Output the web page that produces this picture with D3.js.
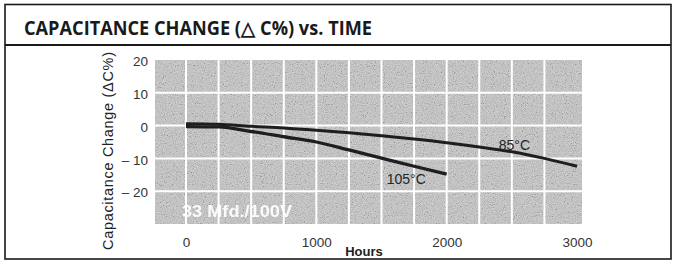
<!DOCTYPE html>
<html>
<head>
<meta charset="utf-8">
<script src="https://cdn.jsdelivr.net/npm/d3@7"></script>
<style>
  body { margin: 0; background: #fff; }
  svg { display: block; }
</style>
</head>
<body>
<svg id="chart" width="673" height="263"></svg>
<script>
// data
const hours85 = [0, 250, 500, 750, 1000, 1250, 1500, 1750, 2000, 2250, 2500, 2750, 3000]
const change85 = [0.6, 0.4, -0.2, -0.7, -1.4, -2.2, -3.1, -4.1, -5.2, -6.5, -8.0, -10.0, -12.4]
const hours105 = [0, 250, 500, 750, 1000, 1250, 1500, 1750, 2000]
const change105 = [-0.3, -0.4, -1.8, -3.4, -5.0, -7.4, -9.9, -12.4, -14.8]
const xTicks = [0, 1000, 2000, 3000]
const yTicks = [20, 10, 0, -10, -20]
const xGrid = [0, 250, 500, 750, 1000, 1250, 1500, 1750, 2000, 2250, 2500, 2750]
const yGrid = [10, 0, -10, -20]
const seriesLabels = [
  {text: '85\u00b0C', h: 2400, v: -7.4},
  {text: '105\u00b0C', h: 1540, v: -17.7}
]

const svg = d3.select('#chart')

// plot box
const plot = {left: 155, right: 582, top: 60, bottom: 224}

// x scale
const x = d3.scaleLinear()
  .domain([0, 3000])
  .range([186, 577])

// y scale
const y = d3.scaleLinear()
  .domain([-30, 20])
  .range([plot.bottom, plot.top])

// outer frame + header
svg.append('rect')
  .attr('x', 5).attr('y', 4.5)
  .attr('width', 666).attr('height', 254.5)
  .attr('fill', 'none').attr('stroke', '#1a1a1a').attr('stroke-width', 1.6)
svg.append('line')
  .attr('x1', 5).attr('x2', 671).attr('y1', 45).attr('y2', 45)
  .attr('stroke', '#1a1a1a').attr('stroke-width', 1.8)

svg.append('text')
  .attr('x', 24).attr('y', 35)
  .attr('font-family', 'Open Sans, sans-serif')
  .attr('font-weight', 700)
  .attr('font-size', '19px')
  .attr('textLength', 348)
  .attr('lengthAdjust', 'spacingAndGlyphs')
  .attr('fill', '#1a1a1a')
  .text('CAPACITANCE CHANGE (\u25b3 C%) vs. TIME')

// grainy grey background
const defs = svg.append('defs')
const f = defs.append('filter').attr('id', 'grain')
  .attr('x', 0).attr('y', 0).attr('width', 1).attr('height', 1)
f.append('feTurbulence')
  .attr('type', 'fractalNoise').attr('baseFrequency', 0.9)
  .attr('numOctaves', 2).attr('seed', 4)
f.append('feColorMatrix').attr('type', 'matrix')
  .attr('values', '0.33 0.33 0.33 0 0  0.33 0.33 0.33 0 0  0.33 0.33 0.33 0 0  0 0 0 0 1')
const ct = f.append('feComponentTransfer')
;['feFuncR', 'feFuncG', 'feFuncB'].forEach(fn => {
  ct.append(fn).attr('type', 'linear').attr('slope', 3).attr('intercept', -1)
})

const bg = svg.append('g')
bg.append('rect')
  .attr('x', plot.left).attr('y', plot.top)
  .attr('width', plot.right - plot.left).attr('height', plot.bottom - plot.top)
  .attr('fill', '#c6c6c6')
bg.append('rect')
  .attr('x', plot.left).attr('y', plot.top)
  .attr('width', plot.right - plot.left).attr('height', plot.bottom - plot.top)
  .attr('fill', '#888')
  .attr('filter', 'url(#grain)')
  .attr('opacity', 0.22)

// grid lines
const grid = svg.append('g').attr('class', 'grid')
grid.selectAll('line.vg')
  .data(xGrid)
  .enter().append('line')
    .attr('class', 'vg')
    .attr('x1', d => x(d)).attr('x2', d => x(d))
    .attr('y1', plot.top).attr('y2', plot.bottom)
    .attr('stroke', '#ffffff').attr('stroke-width', 2)
grid.selectAll('line.hg')
  .data(yGrid)
  .enter().append('line')
    .attr('class', 'hg')
    .attr('x1', plot.left).attr('x2', plot.right)
    .attr('y1', d => y(d)).attr('y2', d => y(d))
    .attr('stroke', '#ffffff').attr('stroke-width', 2)

// axes (labels only)
const fmtY = d => d < 0 ? '\u2013 ' + Math.abs(d) : String(d)
svg.append('g')
  .attr('transform', 'translate(0,' + (plot.bottom + 10) + ')')
  .call(d3.axisBottom(x).tickValues(xTicks).tickSize(0).tickFormat(d3.format('d')))
  .call(g => g.select('.domain').remove())
  .attr('font-family', 'Liberation Sans, Arial, sans-serif')
  .attr('font-size', '13.5px')
  .selectAll('text').attr('fill', '#333')

svg.append('g')
  .attr('transform', 'translate(148,0)')
  .call(d3.axisLeft(y).tickValues(yTicks).tickSize(0).tickPadding(0).tickFormat(fmtY))
  .call(g => g.select('.domain').remove())
  .attr('font-family', 'Liberation Sans, Arial, sans-serif')
  .attr('font-size', '13.5px')
  .selectAll('text').attr('fill', '#333').attr('dy', '0.42em')

// axis titles
svg.append('text')
  .attr('transform', 'translate(113,151) rotate(-90)')
  .attr('text-anchor', 'middle')
  .attr('font-family', 'Liberation Sans, Arial, sans-serif')
  .attr('font-size', '14.5px')
  .attr('fill', '#222')
  .attr('textLength', 198)
  .text('Capacitance Change (\u0394C%)')

svg.append('text')
  .attr('x', 364).attr('y', 256)
  .attr('text-anchor', 'middle')
  .attr('font-family', 'Liberation Sans, Arial, sans-serif')
  .attr('font-weight', 700)
  .attr('font-size', '13px')
  .attr('fill', '#222')
  .text('Hours')

// curves
const line = d3.line()
  .x(d => x(d[0]))
  .y(d => y(d[1]))
  .curve(d3.curveMonotoneX)

svg.append('path')
  .datum(d3.zip(hours85, change85))
  .attr('d', line)
  .attr('fill', 'none').attr('stroke', '#1e1e1e').attr('stroke-width', 3)

svg.append('path')
  .datum(d3.zip(hours105, change105))
  .attr('d', line)
  .attr('fill', 'none').attr('stroke', '#1e1e1e').attr('stroke-width', 3.3)

svg.selectAll('.slabel')
  .data(seriesLabels)
  .join('text')
    .attr('class', 'slabel')
    .attr('x', d => x(d.h)).attr('y', d => y(d.v))
    .attr('font-family', 'Liberation Sans, Arial, sans-serif')
    .attr('font-size', '14px')
    .attr('fill', '#262626')
    .text(d => d.text)

// part number
svg.append('text')
  .attr('x', 182).attr('y', 216.5)
  .attr('font-family', 'Liberation Sans, Arial, sans-serif')
  .attr('font-weight', 700)
  .attr('font-size', '16.5px')
  .attr('textLength', 110)
  .attr('lengthAdjust', 'spacingAndGlyphs')
  .attr('fill', '#fff')
  .attr('opacity', 0.92)
  .text('33 Mfd./100V')
</script>
</body>
</html>
